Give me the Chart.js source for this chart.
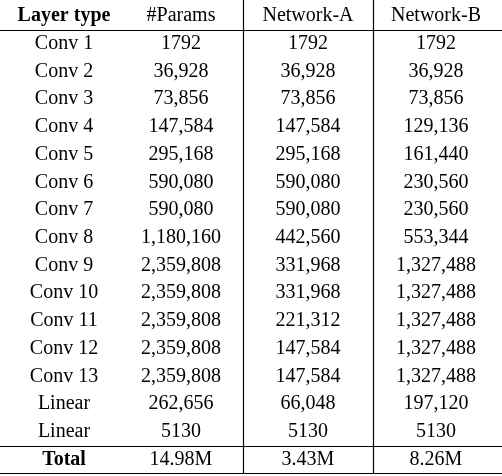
<!DOCTYPE html>
<html><head><meta charset="utf-8">
<script src="https://cdn.jsdelivr.net/npm/chart.js@4"></script>
<style>html,body{margin:0;padding:0;background:#fff}#wrap{width:502px;height:476px}</style>
</head><body><div id="wrap"><canvas id="tbl"></canvas></div>
<script>
// table content
var headers = ['Layer type', '#Params', 'Network-A', 'Network-B'];
var layers = ['Conv 1','Conv 2','Conv 3','Conv 4','Conv 5','Conv 6','Conv 7','Conv 8','Conv 9','Conv 10','Conv 11','Conv 12','Conv 13','Linear','Linear'];
var params = ['1792','36,928','73,856','147,584','295,168','590,080','590,080','1,180,160','2,359,808','2,359,808','2,359,808','2,359,808','2,359,808','262,656','5130'];
var netA = ['1792','36,928','73,856','147,584','295,168','590,080','590,080','442,560','331,968','331,968','221,312','147,584','147,584','66,048','5130'];
var netB = ['1792','36,928','73,856','129,136','161,440','230,560','230,560','553,344','1,327,488','1,327,488','1,327,488','1,327,488','1,327,488','197,120','5130'];
var totals = ['Total', '14.98M', '3.43M', '8.26M'];

// column centres and borders in x-scale units (0..502)
var colX = [64, 181, 308, 436];
var colLines = [243, 373];

var columns = [layers, params, netA, netB];
var points = [];
columns.forEach(function (col, c) {
  points.push({x: colX[c], y: 0, t: headers[c], b: c === 0});
  col.forEach(function (v, r) { points.push({x: colX[c], y: r + 1, t: v, b: false}); });
  points.push({x: colX[c], y: col.length + 1, t: totals[c], b: c === 0});
});

var tablePlugin = {
  id: 'tablePlugin',
  afterDatasetsDraw: function (chart) {
    var ctx = chart.ctx, xs = chart.scales.x, ys = chart.scales.y;
    ctx.save();
    ctx.strokeStyle = '#000';
    ctx.lineWidth = 1.2;
    [0.5, layers.length + 0.5, layers.length + 1.5].forEach(function (v) {
      var y = Math.round(ys.getPixelForValue(v)) + 0.5;
      ctx.beginPath(); ctx.moveTo(xs.left, y); ctx.lineTo(xs.right, y); ctx.stroke();
    });
    colLines.forEach(function (v) {
      var x = Math.round(xs.getPixelForValue(v)) + 0.5;
      ctx.beginPath(); ctx.moveTo(x, ys.top); ctx.lineTo(x, ys.getPixelForValue(layers.length + 1.5)); ctx.stroke();
    });
    ctx.fillStyle = '#000';
    ctx.textAlign = 'center';
    ctx.textBaseline = 'middle';
    chart.data.datasets[0].data.forEach(function (p) {
      ctx.font = (p.b ? 'bold ' : '') + '20px "Liberation Serif", serif';
      ctx.fillText(p.t, xs.getPixelForValue(p.x), ys.getPixelForValue(p.y));
    });
    ctx.restore();
  }
};

new Chart(document.getElementById('tbl'), {
  type: 'scatter',
  data: {datasets: [{data: points, pointRadius: 0, pointHoverRadius: 0}]},
  options: {
    responsive: true,
    maintainAspectRatio: false,
    animation: false,
    layout: {padding: 0},
    events: [],
    plugins: {legend: {display: false}, tooltip: {enabled: false}},
    scales: {
      x: {type: 'linear', min: 0, max: 502, display: false},
      y: {type: 'linear', min: -0.58, max: 16.6, reverse: true, display: false}
    }
  },
  plugins: [tablePlugin]
});
</script>
</body></html>
